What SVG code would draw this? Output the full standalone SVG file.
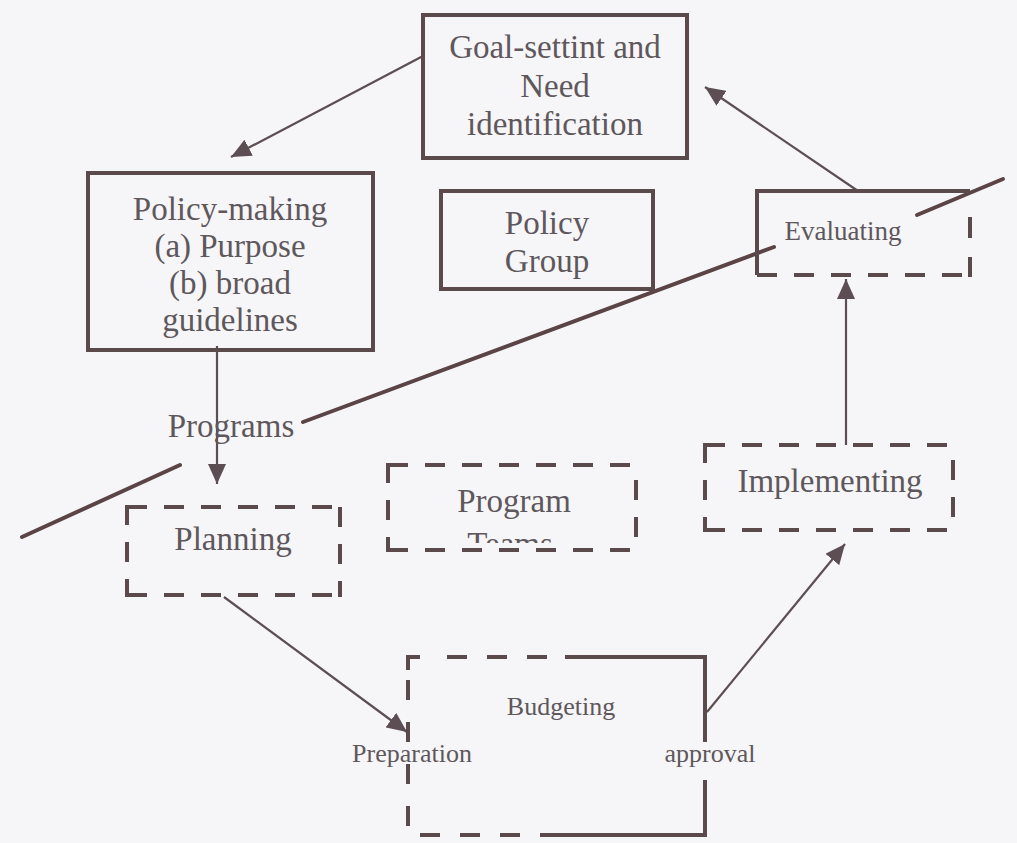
<svg xmlns="http://www.w3.org/2000/svg" width="1017" height="843" viewBox="0 0 1017 843">
<defs>
<style>
.bg{fill:#f6f5f8}
.box{fill:none;stroke:#5a4a4c;stroke-width:4}
.dash{fill:none;stroke:#5a4a4c;stroke-width:4;stroke-dasharray:20 17}
.cut{fill:none;stroke:#5a4a4c;stroke-width:4}
.arr{fill:none;stroke:#5c4e52;stroke-width:2.2}
.diag{fill:none;stroke:#5a4446;stroke-width:4;stroke-linecap:round}
.t{font-family:"Liberation Serif","Times New Roman",serif;fill:#5e585c;text-anchor:middle;font-size:33px}
.s{font-size:26px}
</style>
<marker id="ah" markerUnits="userSpaceOnUse" markerWidth="22" markerHeight="18" refX="20" refY="9" orient="auto">
<path d="M0,0 L20,9 L0,18 Z" fill="#5c4e52"/>
</marker>
<clipPath id="teamsClip"><rect x="380" y="500" width="270" height="43"/></clipPath>
</defs>
<rect class="bg" x="0" y="0" width="1017" height="843"/>

<g id="connectors">
<line class="arr" x1="423" y1="56" x2="231" y2="157" marker-end="url(#ah)"/>
<line class="arr" x1="858" y1="191" x2="705" y2="87" marker-end="url(#ah)"/>
<line class="arr" x1="217" y1="346" x2="217" y2="484" marker-end="url(#ah)"/>
<line class="arr" x1="224" y1="597" x2="407" y2="732" marker-end="url(#ah)"/>
<line class="arr" x1="707" y1="712" x2="845" y2="544" marker-end="url(#ah)"/>
<line class="arr" x1="846" y1="445" x2="846" y2="279" marker-end="url(#ah)"/>
</g>

<g id="divider">
<line class="diag" x1="22" y1="537" x2="180" y2="465"/>
<line class="diag" x1="303" y1="422" x2="774" y2="247"/>
<line class="diag" x1="917" y1="215" x2="1003" y2="179"/>
</g>

<g id="goal">
<rect class="box" x="423" y="15" width="264" height="143"/>
<text class="t" x="555" y="58">Goal-settint and</text>
<text class="t" x="555" y="97">Need</text>
<text class="t" x="555" y="135">identification</text>
</g>

<g id="policy-making">
<rect class="box" x="88" y="173" width="285" height="177"/>
<text class="t" x="230" y="220">Policy-making</text>
<text class="t" x="230" y="257">(a) Purpose</text>
<text class="t" x="230" y="294">(b) broad</text>
<text class="t" x="230" y="331">guidelines</text>
</g>

<g id="policy-group">
<rect class="box" x="441" y="191" width="212" height="98"/>
<text class="t" x="547" y="234">Policy</text>
<text class="t" x="547" y="272">Group</text>
</g>

<g id="evaluating">
<path class="box" d="M970,191 H757 V275"/>
<line class="dash" x1="757" y1="275" x2="972" y2="275"/>
<line class="dash" x1="970" y1="217" x2="970" y2="277" style="stroke-dasharray:21 19"/>
<text class="t" x="843" y="240" style="font-size:27px">Evaluating</text>
</g>

<g id="programs-label">
<text class="t" x="231" y="437">Programs</text>
</g>

<g id="planning">
<line class="dash" x1="127" y1="507" x2="342" y2="507"/>
<line class="dash" x1="340" y1="507" x2="340" y2="597"/>
<line class="dash" x1="127" y1="595" x2="342" y2="595"/>
<line class="dash" x1="127" y1="505" x2="127" y2="597"/>
<text class="t" x="233" y="550">Planning</text>
</g>

<g id="program-teams">
<line class="dash" x1="388" y1="465" x2="640" y2="465"/>
<line class="dash" x1="636" y1="480" x2="636" y2="552"/>
<line class="dash" x1="388" y1="550" x2="640" y2="550"/>
<line class="dash" x1="388" y1="463" x2="388" y2="552"/>
<text class="t" x="514" y="512">Program</text>
<text class="t" x="510" y="555" clip-path="url(#teamsClip)">Teams</text>
</g>

<g id="implementing">
<line class="dash" x1="705" y1="445" x2="955" y2="445"/>
<line class="dash" x1="953" y1="460" x2="953" y2="532"/>
<line class="dash" x1="705" y1="530" x2="955" y2="530"/>
<line class="dash" x1="705" y1="443" x2="705" y2="532"/>
<text class="t" x="830" y="492">Implementing</text>
</g>

<g id="budgeting">
<path class="cut" d="M408,670 V657 H420"/>
<line class="dash" x1="447" y1="657" x2="550" y2="657" style="stroke-dasharray:20 20"/>
<path class="cut" d="M565,657 H705 V742"/>
<line class="cut" x1="705" y1="780" x2="705" y2="835"/>
<line class="cut" x1="543" y1="835" x2="707" y2="835"/>
<line class="dash" x1="420" y1="835" x2="543" y2="835" style="stroke-dasharray:20 20"/>
<line class="dash" x1="408" y1="680" x2="408" y2="840" style="stroke-dasharray:20 22"/>
<text class="t s" x="561" y="715">Budgeting</text>
<text class="t s" x="412" y="762">Preparation</text>
<text class="t s" x="710" y="762">approval</text>
</g>
</svg>
